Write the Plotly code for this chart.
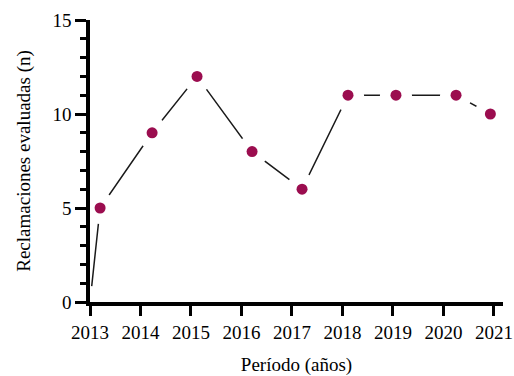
import plotly.graph_objects as go

# Yearly evaluated claims (points sit slightly inside each year)
x_pos = [2013.20, 2014.23, 2015.12, 2016.21, 2017.20, 2018.11, 2019.06, 2020.25, 2020.93]
values = [5, 9, 12, 8, 6, 11, 11, 11, 10]
year_ticks = [2013, 2014, 2015, 2016, 2017, 2018, 2019, 2020, 2021]
y_ticks = [0, 5, 10, 15]

# connecting line starts at the origin of the series
line_x = [year_ticks[0]] + x_pos
line_y = [0] + values

point_color = "#9B0D4F"
serif = "Liberation Serif"
tick_font = dict(family=serif, size=19, color="black")
title_font = dict(family=serif, size=19, color="black")

fig = go.Figure()
fig.add_trace(go.Scatter(
    x=line_x, y=line_y, mode="lines",
    line=dict(color="#1a1a1a", width=1.5),
    hoverinfo="skip", showlegend=False,
))
# white halos leave a gap between the line and each point
fig.add_trace(go.Scatter(
    x=line_x, y=line_y, mode="markers",
    marker=dict(color="white", size=32, line=dict(width=0)),
    hoverinfo="skip", showlegend=False,
))
fig.add_trace(go.Scatter(
    x=x_pos, y=values, mode="markers",
    marker=dict(color=point_color, size=11, line=dict(width=0)),
    showlegend=False, cliponaxis=False,
))

fig.update_layout(
    width=514, height=376,
    margin=dict(l=90, r=11, t=20, b=74, autoexpand=False),
    paper_bgcolor="white", plot_bgcolor="white",
    font=tick_font,
    xaxis=dict(
        range=[2013, 2021.18], automargin=False,
        tickmode="array", tickvals=year_ticks, ticktext=[str(y) for y in year_ticks],
        showgrid=False, zeroline=False,
        showline=True, linecolor="black", linewidth=3.5,
        ticks="outside", ticklen=10, tickwidth=3, tickcolor="black",
        tickfont=tick_font,
        title=dict(text="Período (años)", font=title_font, standoff=21),
    ),
    yaxis=dict(
        range=[0, 15], automargin=False,
        tickmode="array", tickvals=y_ticks,
        showgrid=False, zeroline=False,
        showline=True, linecolor="black", linewidth=3.5,
        ticks="outside", ticklen=11, tickwidth=3, tickcolor="black",
        minor=dict(dtick=1, ticks="outside", ticklen=6, tickwidth=3, tickcolor="black", showgrid=False),
        tickfont=tick_font,
        title=dict(text="Reclamaciones evaluadas (n)", font=title_font, standoff=18),
    ),
)

fig.write_html("out.html")
